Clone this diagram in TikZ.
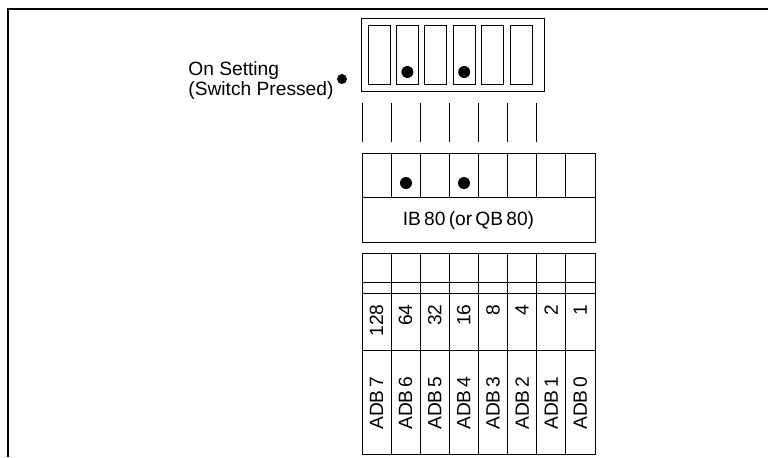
\documentclass[tikz,border=0pt]{standalone}
\usepackage{fontspec}
\setmainfont{Liberation Sans}
\usetikzlibrary{positioning}

\begin{document}
\begin{tikzpicture}[
  x=0.5pt,y=-0.5pt,
  frame/.style={line width=0.8pt},
  cell/.style={draw,line width=0.5pt},
  pin/.style={fill,circle,inner sep=0pt,minimum size=6pt},
  txt/.style={font=\fontsize{9.6}{8}\selectfont,inner sep=0pt},
  vtxt/.style={txt,rotate=90}]
\useasboundingbox (0,0) rectangle (768,457);
% frame
\draw[frame] (768,9)--(8,9)--(8,457);
% switch block
\draw[cell] (361,18) rectangle (544,91);
\foreach \i in {0,...,5}
  \draw[cell] ({368+28.4*\i},25) rectangle ({390+28.4*\i},84);
\node[pin] (sw6) at (407.4,72) {};
\node[pin] (sw4) at (464.2,72) {};
\node[txt,align=left,anchor=north west] (onset) at (188,61) {On Setting\\(Switch Pressed)};
\node[pin,minimum size=5pt] (ondot) at (342,79) {};
% leads
\foreach \i in {0,...,6}
  \draw[cell] ({362+29.1*\i},103)--({362+29.1*\i},142);
% byte
\draw[cell] (362,153) rectangle (595,242);
\draw[cell] (362,197)--(595,197);
\foreach \i in {1,...,7}
  \draw[cell] ({362+29.125*\i},153)--({362+29.125*\i},197);
\node[pin] (bit6) at (406,183) {};
\node[pin] (bit4) at (464,183) {};
\node[txt] (ib) at (468.5,221) {IB\,80\,(or\,QB\,80)};
% bit table
\draw[cell] (362,253) rectangle (595,454);
\foreach \y in {282,293,350}
  \draw[cell] (362,\y)--(595,\y);
\foreach \i in {1,...,7}
  \draw[cell] ({362+29.125*\i},253)--({362+29.125*\i},454);
\foreach \v [count=\i from 0] in {128,64,32,16,8,4,2,1}
  \node[vtxt,anchor=east] (w\i) at ({376.5+29.125*\i},304) {\v};
\foreach \b [count=\i from 0] in {7,6,5,4,3,2,1,0}
  \node[vtxt] (adb\b) at ({376.5+29.125*\i},403) {ADB\,\b};
\end{tikzpicture}
\end{document}
